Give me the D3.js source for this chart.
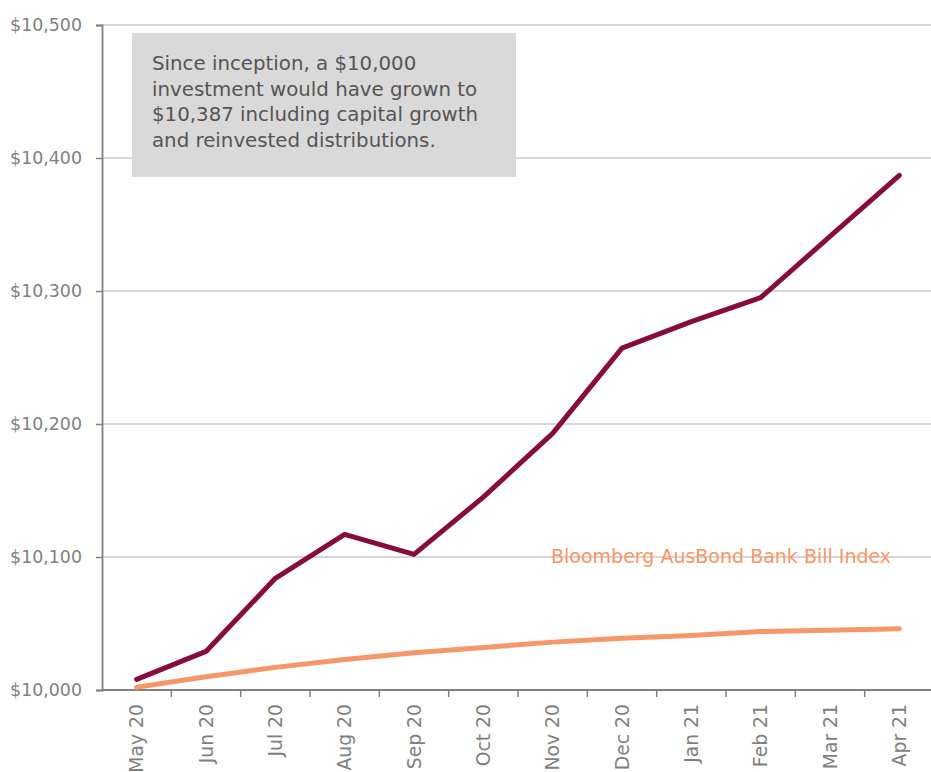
<!DOCTYPE html>
<html><head><meta charset="utf-8">
<script src="https://cdn.jsdelivr.net/npm/d3@7"></script>
<style>body{margin:0;background:#fff}svg{display:block}</style>
</head><body>
<svg id="c" width="931" height="772"></svg>
<script>
const months = ["May 20","Jun 20","Jul 20","Aug 20","Sep 20","Oct 20","Nov 20","Dec 20","Jan 21","Feb 21","Mar 21","Apr 21"];
const fundValues = [10008,10029,10084,10117,10102,10145,10193,10257,10277,10295,10341,10387];
const benchValues = [10002,10010,10017,10023,10028,10032,10036,10039,10041,10044,10045,10046];
const yTicks = [10000,10100,10200,10300,10400,10500];
const benchLabel = "Bloomberg AusBond Bank Bill Index";
const noteLines = ["Since inception, a $10,000","investment would have grown to","$10,387 including capital growth","and reinvested distributions."];

const svg = d3.select("#c");
const font = "'DejaVu Sans', sans-serif";
const x = d3.scaleBand().domain(months).range([102, 934]);
const y = d3.scaleLinear().domain([10000, 10500]).range([690, 25]);
const cx = d => x(d) + x.bandwidth()/2;

// gridlines
svg.append("g").selectAll("line").data(yTicks.slice(1)).join("line")
  .attr("x1",102).attr("x2",931).attr("y1",d=>y(d)).attr("y2",d=>y(d))
  .attr("stroke","#c9c9c9").attr("stroke-width",1.3);

// y axis
const ya = svg.append("g").attr("transform","translate(102,0)")
  .call(d3.axisLeft(y).tickValues(yTicks).tickSize(6).tickPadding(14).tickFormat(d=>"$"+d3.format(",")(d)));
ya.select(".domain").attr("stroke","#808080").attr("stroke-width",1.8);
ya.selectAll(".tick line").attr("stroke","#808080").attr("stroke-width",1.5);
ya.selectAll("text").attr("fill","#7f7f7f").style("font-family",font).style("font-size","17.4px");

// x axis
const xa = svg.append("g").attr("transform","translate(0,690)")
  .call(d3.axisBottom(x).tickSize(0).tickPadding(0));
xa.select(".domain").attr("stroke","#808080").attr("stroke-width",2).attr("d","M102,0H931");
xa.selectAll(".tick text")
  .attr("transform","rotate(-90)").attr("text-anchor","end").attr("x",-14).attr("y",0).attr("dy","0.35em")
  .attr("fill","#7f7f7f").style("font-family",font).style("font-size","18.8px");
// boundary ticks
svg.append("g").selectAll("line").data(months.slice(1)).join("line")
  .attr("x1",d=>x(d)).attr("x2",d=>x(d)).attr("y1",690).attr("y2",697)
  .attr("stroke","#808080").attr("stroke-width",1.5);

// note box
svg.append("rect").attr("x",132).attr("y",33).attr("width",384).attr("height",144).attr("fill","#d9d9d9");
svg.append("g").selectAll("text").data(noteLines).join("text")
  .attr("x",152).attr("y",(d,i)=>70+i*25.7).text(d=>d)
  .attr("fill","#555555").style("font-family",font).style("font-size","19.8px");

// lines
const line = d3.line().x((d,i)=>cx(months[i])).y(d=>y(d));
svg.append("path").datum(benchValues).attr("d",line).attr("fill","none")
  .attr("stroke","#f79668").attr("stroke-width",5).attr("stroke-linecap","round").attr("stroke-linejoin","round");
svg.append("path").datum(fundValues).attr("d",line).attr("fill","none")
  .attr("stroke","#850c3c").attr("stroke-width",5).attr("stroke-linecap","round").attr("stroke-linejoin","round");

svg.append("text").attr("x",551).attr("y",563).text(benchLabel)
  .attr("fill","#f79668").style("font-family",font).style("font-size","19px");
</script>
</body></html>
